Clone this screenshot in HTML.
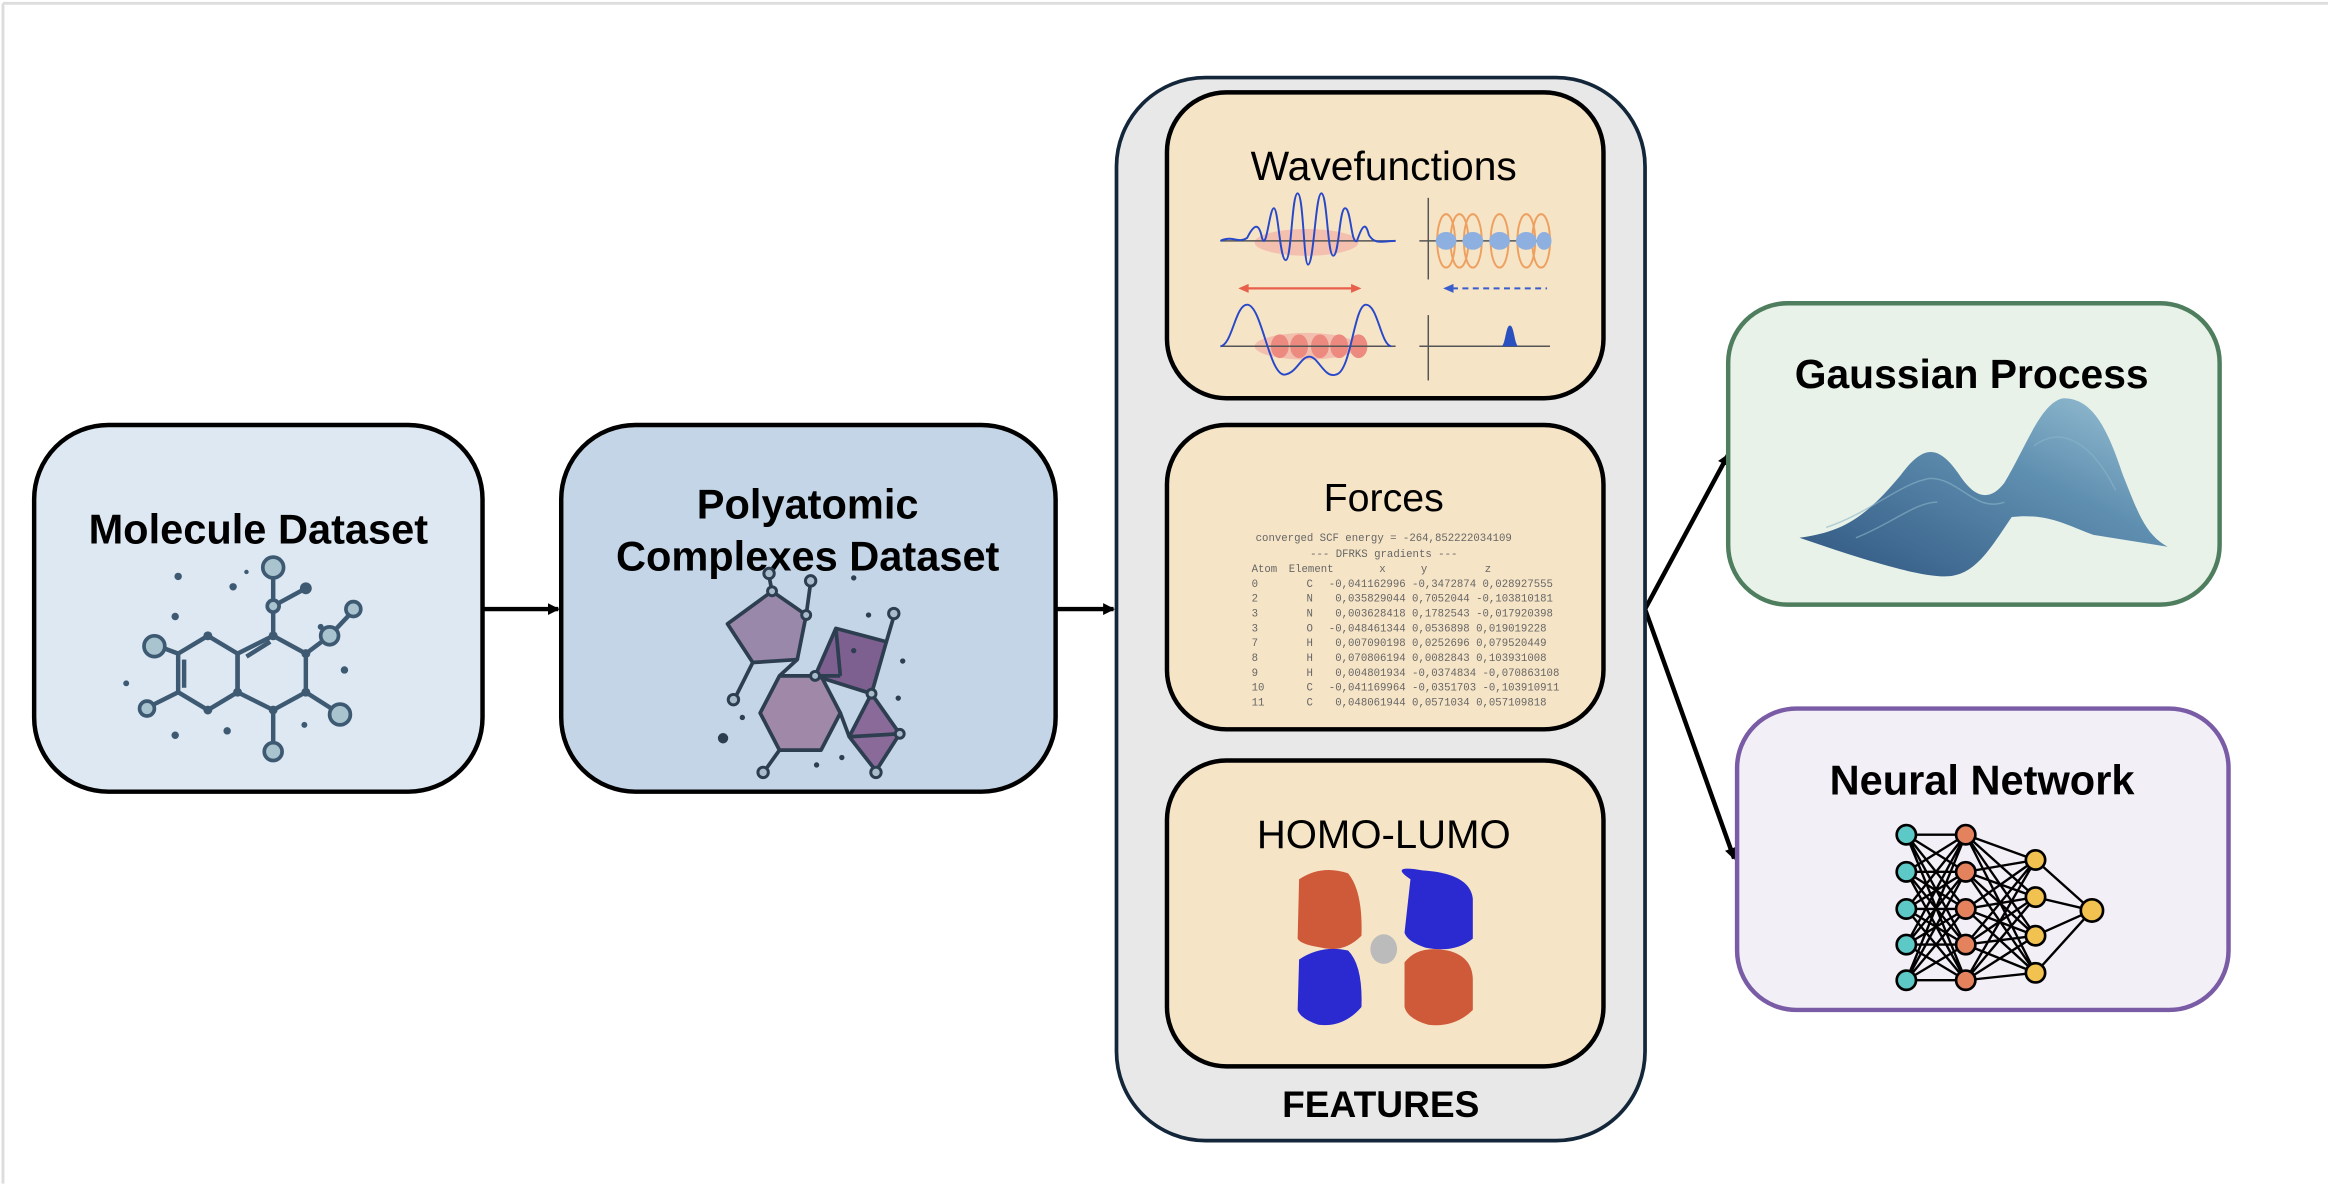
<!DOCTYPE html>
<html><head><meta charset="utf-8"><style>
html,body{margin:0;padding:0;background:#fff;}
svg{display:block;}
.t{font-family:"Liberation Sans Narrow","Liberation Sans",sans-serif;font-weight:bold;text-anchor:middle;}
.r{font-family:"Liberation Sans",sans-serif;text-anchor:middle;}
.m{font-family:"Liberation Mono",monospace;font-size:7.2px;fill:#666;}
</style></head><body>
<svg width="2328" height="1184" viewBox="0 0 1568 797" xmlns="http://www.w3.org/2000/svg">
<defs>
<marker id="ah" markerWidth="8" markerHeight="8" refX="7" refY="4" orient="auto" markerUnits="userSpaceOnUse"><path d="M0,0 L8,4 L0,8 z" fill="#000"/></marker>
<linearGradient id="gp" x1="0" y1="1" x2="1" y2="0"><stop offset="0" stop-color="#2f5580"/><stop offset="0.6" stop-color="#5f8fb0"/><stop offset="1" stop-color="#9cc4d6"/></linearGradient>
</defs>
<rect x="0" y="0" width="1568" height="797" fill="#fff"/>
<line x1="2" y1="2" x2="1568" y2="2" stroke="#ddd" stroke-width="2"/>
<line x1="2" y1="2" x2="2" y2="797" stroke="#ddd" stroke-width="2"/>

<rect x="23" y="286" width="302" height="247" rx="50" fill="#dde8f3" stroke="#000" stroke-width="3"/>
<text x="174" y="366" class="t" font-size="28">Molecule Dataset</text>
<g stroke="#3e5a72" stroke-width="3" fill="none">
<polygon points="120,440 140,428 160,440 160,466 140,478 120,466"/>
<polygon points="160,440 184,428 206,440 206,466 184,478 160,466"/>
<line x1="124" y1="444" x2="124" y2="463"/><line x1="166" y1="442" x2="182" y2="432"/>
<line x1="120" y1="440" x2="104" y2="434"/><line x1="120" y1="466" x2="100" y2="476"/>
<line x1="184" y1="428" x2="184" y2="408"/><line x1="184" y1="408" x2="184" y2="383"/><line x1="184" y1="408" x2="206" y2="396"/>
<line x1="206" y1="440" x2="222" y2="428"/><line x1="222" y1="428" x2="238" y2="411"/>
<line x1="206" y1="466" x2="228" y2="480"/><line x1="184" y1="478" x2="184" y2="505"/>
</g>
<g fill="#a9c3cf" stroke="#3e5a72" stroke-width="2.5">
<circle cx="184" cy="382" r="7"/><circle cx="104" cy="435" r="7"/><circle cx="99" cy="477" r="5"/><circle cx="238" cy="410" r="5"/>
<circle cx="229" cy="481" r="7"/><circle cx="184" cy="506" r="6"/><circle cx="184" cy="408" r="4"/><circle cx="222" cy="428" r="6"/>
</g>
<g fill="#3e5a72"><circle cx="206" cy="396" r="4"/><circle cx="140" cy="428" r="3"/><circle cx="184" cy="428" r="3"/><circle cx="206" cy="440" r="3"/><circle cx="206" cy="466" r="3"/><circle cx="140" cy="478" r="3"/><circle cx="184" cy="478" r="3"/><circle cx="160" cy="466" r="3"/>
<circle cx="120" cy="388" r="2.5"/><circle cx="157" cy="395" r="2.5"/><circle cx="118" cy="415" r="2.5"/><circle cx="216" cy="422" r="2"/><circle cx="85" cy="460" r="2"/><circle cx="232" cy="451" r="2.5"/><circle cx="118" cy="495" r="2.5"/><circle cx="153" cy="492" r="2.5"/><circle cx="205" cy="488" r="2"/><circle cx="166" cy="385" r="1.5"/></g>

<rect x="378" y="286" width="333" height="247" rx="50" fill="#c3d5e6" stroke="#000" stroke-width="3"/>
<text x="544" y="349" class="t" font-size="28">Polyatomic</text>
<text x="544" y="384" class="t" font-size="28">Complexes Dataset</text>
<g stroke="#2c3e50" stroke-width="2.5" stroke-linejoin="round">
<polygon points="520,398 543,414 537,444 507,446 490,420" fill="#9a88aa"/>
<polygon points="525,455 553,455 566,480 553,505 525,505 512,480" fill="#a088a8"/>
<polygon points="563,423 597,432 587,467 549,455" fill="#7e6090"/>
<polygon points="572,496 587,467 606,494 590,519" fill="#8a6a98"/>
<line x1="537" y1="444" x2="525" y2="455"/><line x1="566" y1="480" x2="572" y2="496"/><line x1="520" y1="398" x2="518" y2="388"/><line x1="543" y1="414" x2="546" y2="392"/><line x1="597" y1="432" x2="602" y2="415"/><line x1="507" y1="446" x2="495" y2="470"/><line x1="525" y1="505" x2="515" y2="519"/><line x1="572" y1="496" x2="606" y2="494"/><line x1="563" y1="423" x2="566" y2="455"/><line x1="566" y1="455" x2="549" y2="455"/>
</g>
<g fill="#a9bccc" stroke="#2c3e50" stroke-width="2"><circle cx="518" cy="386" r="3.5"/><circle cx="546" cy="391" r="3.5"/><circle cx="602" cy="413" r="3.5"/><circle cx="494" cy="471" r="3.5"/><circle cx="514" cy="520" r="3.5"/><circle cx="590" cy="520" r="3.5"/><circle cx="520" cy="398" r="3"/><circle cx="543" cy="414" r="3"/><circle cx="549" cy="455" r="3"/><circle cx="587" cy="467" r="3"/><circle cx="606" cy="494" r="3"/></g>
<g fill="#2c3e50"><circle cx="487" cy="497" r="3.5"/><circle cx="575" cy="389" r="1.8"/><circle cx="585" cy="414" r="1.8"/><circle cx="608" cy="445" r="1.8"/><circle cx="500" cy="483" r="1.8"/><circle cx="550" cy="515" r="1.8"/><circle cx="567" cy="510" r="1.8"/><circle cx="575" cy="438" r="1.8"/><circle cx="605" cy="470" r="1.8"/></g>

<line x1="325" y1="410" x2="376" y2="410" stroke="#000" stroke-width="3" marker-end="url(#ah)"/>
<line x1="711" y1="410" x2="750" y2="410" stroke="#000" stroke-width="3" marker-end="url(#ah)"/>
<line x1="1108" y1="410" x2="1164" y2="306" stroke="#000" stroke-width="3" marker-end="url(#ah)"/>
<line x1="1108" y1="410" x2="1168" y2="578" stroke="#000" stroke-width="3" marker-end="url(#ah)"/>

<rect x="752" y="52" width="356" height="716" rx="60" fill="#e8e8e8" stroke="#14263a" stroke-width="2.5"/>
<text x="930" y="752" class="t" font-size="25">FEATURES</text>

<rect x="786" y="62" width="294" height="206" rx="40" fill="#f6e4c6" stroke="#000" stroke-width="3"/>
<text x="932" y="121" class="r" font-size="27.5">Wavefunctions</text>
<g fill="#f1a8a0" opacity="0.6"><ellipse cx="880" cy="163" rx="35" ry="9"/><ellipse cx="880" cy="233" rx="35" ry="9"/></g>
<g fill="#ec8a80"><ellipse cx="862" cy="233" rx="6" ry="8"/><ellipse cx="875" cy="233" rx="6" ry="8"/><ellipse cx="889" cy="233" rx="6" ry="8"/><ellipse cx="902" cy="233" rx="6" ry="8"/><ellipse cx="915" cy="233" rx="6" ry="8"/></g>
<line x1="822" y1="162" x2="940" y2="162" stroke="#555" stroke-width="1"/>
<line x1="822" y1="233" x2="940" y2="233" stroke="#555" stroke-width="1"/>
<path d="M822,162 C830,158 834,164 840,160 C845,150 848,150 850,160 C853,170 855,140 858,140 C861,140 862,175 866,175 C870,175 870,130 874,130 C878,130 878,178 881,178 C885,178 886,130 890,130 C894,130 894,172 898,172 C902,172 902,140 906,140 C910,140 910,165 914,162 C918,150 920,150 922,158 C926,165 932,162 940,162" fill="none" stroke="#2748c8" stroke-width="1.3"/>
<path d="M822,233 C830,232 832,205 840,205 C850,205 855,255 866,252 C874,250 876,240 882,240 C888,240 892,255 900,252 C910,250 912,205 920,205 C928,205 930,232 937,233" fill="none" stroke="#2748c8" stroke-width="1.3"/>
<line x1="838" y1="194" x2="912" y2="194" stroke="#e8604c" stroke-width="1.5"/>
<path d="M834,194 l7,-3 v6z M917,194 l-7,-3 v6z" fill="#e8604c"/>
<line x1="962" y1="133" x2="962" y2="188" stroke="#555" stroke-width="1"/>
<line x1="956" y1="162" x2="1044" y2="162" stroke="#555" stroke-width="1"/>
<g fill="none" stroke="#eda060" stroke-width="1.3"><ellipse cx="974" cy="162" rx="6" ry="18"/><ellipse cx="992" cy="162" rx="6" ry="18"/><ellipse cx="1010" cy="162" rx="6" ry="18"/><ellipse cx="1028" cy="162" rx="6" ry="18"/><ellipse cx="1038" cy="162" rx="6" ry="18"/><ellipse cx="983" cy="162" rx="6" ry="18"/></g>
<g fill="#8eb0e0"><ellipse cx="974" cy="162" rx="7" ry="6"/><ellipse cx="992" cy="162" rx="7" ry="6"/><ellipse cx="1010" cy="162" rx="7" ry="6"/><ellipse cx="1028" cy="162" rx="7" ry="6"/><ellipse cx="1040" cy="162" rx="5" ry="6"/></g>
<line x1="978" y1="194" x2="1042" y2="194" stroke="#3a5ccc" stroke-width="1.3" stroke-dasharray="4,3"/>
<path d="M972,194 l7,-3 v6z" fill="#3a5ccc"/>
<line x1="962" y1="212" x2="962" y2="256" stroke="#555" stroke-width="1"/>
<line x1="956" y1="233" x2="1044" y2="233" stroke="#555" stroke-width="1"/>
<path d="M1011,233 C1014,233 1014,219 1017,219 C1020,219 1020,233 1023,233z" fill="#2a50c0"/>

<rect x="786" y="286" width="294" height="205" rx="40" fill="#f6e4c6" stroke="#000" stroke-width="3"/>
<text x="932" y="344" class="r" font-size="26.5">Forces</text>
<text x="932" y="364" class="m" text-anchor="middle">converged SCF energy = -264,852222034109</text>
<text x="932" y="375" class="m" text-anchor="middle">--- DFRKS gradients ---</text>
<g class="m">
<text x="843" y="385">Atom</text><text x="868" y="385">Element</text><text x="929" y="385">x</text><text x="957" y="385">y</text><text x="1000" y="385">z</text>
</g>
<g class="m">
<text y="395"><tspan x="843">0</tspan><tspan x="880">C</tspan><tspan x="895">-0,041162996 -0,3472874  0,028927555</tspan></text>
<text y="405"><tspan x="843">2</tspan><tspan x="880">N</tspan><tspan x="895"> 0,035829044  0,7052044 -0,103810181</tspan></text>
<text y="415"><tspan x="843">3</tspan><tspan x="880">N</tspan><tspan x="895"> 0,003628418  0,1782543 -0,017920398</tspan></text>
<text y="425"><tspan x="843">3</tspan><tspan x="880">O</tspan><tspan x="895">-0,048461344  0,0536898  0,019019228</tspan></text>
<text y="435"><tspan x="843">7</tspan><tspan x="880">H</tspan><tspan x="895"> 0,007090198  0,0252696  0,079520449</tspan></text>
<text y="445"><tspan x="843">8</tspan><tspan x="880">H</tspan><tspan x="895"> 0,070806194  0,0082843  0,103931008</tspan></text>
<text y="455"><tspan x="843">9</tspan><tspan x="880">H</tspan><tspan x="895"> 0,004801934 -0,0374834 -0,070863108</tspan></text>
<text y="465"><tspan x="843">10</tspan><tspan x="880">C</tspan><tspan x="895">-0,041169964 -0,0351703 -0,103910911</tspan></text>
<text y="475"><tspan x="843">11</tspan><tspan x="880">C</tspan><tspan x="895"> 0,048061944  0,0571034  0,057109818</tspan></text>
</g>

<rect x="786" y="512" width="294" height="206" rx="40" fill="#f6e4c6" stroke="#000" stroke-width="3"/>
<text x="932" y="571" class="r" font-size="27">HOMO-LUMO</text>
<g>
<path d="M875,592 Q890,582 908,588 Q918,600 917,630 Q905,642 890,638 Q876,636 874,632z" fill="#cf5a3a"/>
<path d="M950,592 Q935,582 958,586 Q990,588 992,605 V632 Q980,642 960,638 Q948,634 946,628z" fill="#2a2ad0"/>
<path d="M875,646 Q890,636 908,640 Q918,650 917,678 Q905,692 888,690 Q876,686 874,680z" fill="#2a2ad0"/>
<path d="M946,648 Q955,636 975,640 Q992,644 992,660 V680 Q980,692 962,690 Q948,686 946,678z" fill="#cf5a3a"/>
<ellipse cx="932" cy="639" rx="9" ry="10" fill="#bbb"/>
</g>

<rect x="1164" y="204" width="331" height="203" rx="40" fill="#e8f2e8" stroke="#4e7e5e" stroke-width="3"/>
<text x="1328" y="261" class="r" font-size="27.5" font-weight="bold">Gaussian Process</text>
<path d="M1212,362 C1240,358 1255,350 1280,320 C1295,300 1305,298 1320,320 C1330,335 1340,338 1350,325 C1365,300 1375,270 1390,268 C1410,268 1420,290 1430,320 C1440,345 1445,360 1460,368 L1410,360 C1395,355 1380,345 1355,348 C1340,370 1330,388 1310,388 C1290,388 1250,375 1212,362z" fill="url(#gp)"/>
<path d="M1230,355 C1260,345 1280,325 1300,322 C1320,322 1330,345 1350,338 M1250,362 C1275,352 1290,338 1305,338 M1370,300 C1390,285 1410,300 1425,330" fill="none" stroke="#8ab4c8" stroke-width="1" opacity="0.6"/>

<rect x="1170" y="477" width="331" height="203" rx="40" fill="#f2eff7" stroke="#7a5ca6" stroke-width="3"/>
<text x="1335" y="535" class="t" font-size="28">Neural Network</text>
<g stroke="#000" stroke-width="1.6">
<path d="M1284,562L1324,562M1284,562L1324,587M1284,562L1324,612M1284,562L1324,636M1284,562L1324,660M1284,587L1324,562M1284,587L1324,587M1284,587L1324,612M1284,587L1324,636M1284,587L1324,660M1284,612L1324,562M1284,612L1324,587M1284,612L1324,612M1284,612L1324,636M1284,612L1324,660M1284,636L1324,562M1284,636L1324,587M1284,636L1324,612M1284,636L1324,636M1284,636L1324,660M1284,660L1324,562M1284,660L1324,587M1284,660L1324,612M1284,660L1324,636M1284,660L1324,660"/>
<path d="M1324,562L1371,579M1324,562L1371,604M1324,562L1371,630M1324,562L1371,655M1324,587L1371,579M1324,587L1371,604M1324,587L1371,630M1324,587L1371,655M1324,612L1371,579M1324,612L1371,604M1324,612L1371,630M1324,612L1371,655M1324,636L1371,579M1324,636L1371,604M1324,636L1371,630M1324,636L1371,655M1324,660L1371,579M1324,660L1371,604M1324,660L1371,630M1324,660L1371,655"/>
<path d="M1371,579L1409,613M1371,604L1409,613M1371,630L1409,613M1371,655L1409,613"/>
</g>
<g stroke="#000" stroke-width="1.8">
<g fill="#5cc9c6"><circle cx="1284" cy="562" r="6.5"/><circle cx="1284" cy="587" r="6.5"/><circle cx="1284" cy="612" r="6.5"/><circle cx="1284" cy="636" r="6.5"/><circle cx="1284" cy="660" r="6.5"/></g>
<g fill="#e5825e"><circle cx="1324" cy="562" r="6.5"/><circle cx="1324" cy="587" r="6.5"/><circle cx="1324" cy="612" r="6.5"/><circle cx="1324" cy="636" r="6.5"/><circle cx="1324" cy="660" r="6.5"/></g>
<g fill="#f2c250"><circle cx="1371" cy="579" r="6.5"/><circle cx="1371" cy="604" r="6.5"/><circle cx="1371" cy="630" r="6.5"/><circle cx="1371" cy="655" r="6.5"/><circle cx="1409" cy="613" r="7.5"/></g>
</g>
</svg>
</body></html>
